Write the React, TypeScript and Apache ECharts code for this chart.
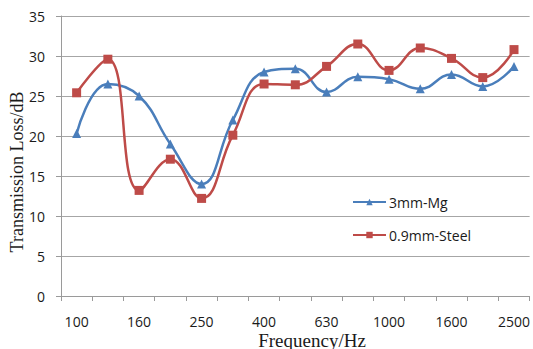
import React, { useEffect, useRef } from "react";
import * as echarts from "echarts";

const categories = ["100", "125", "160", "200", "250", "315", "400", "500", "630", "800", "1000", "1250", "1600", "2000", "2500"];
const mgValues = [20.3, 26.5, 25.0, 19.0, 14.0, 22.0, 28.0, 28.4, 25.5, 27.4, 27.1, 25.9, 27.7, 26.2, 28.7];
const steelValues = [25.4, 29.6, 13.2, 17.1, 12.2, 20.1, 26.5, 26.4, 28.7, 31.5, 28.2, 31.0, 29.7, 27.3, 30.8];
const seriesNames = ["3mm-Mg", "0.9mm-Steel"];
const yTitle = "Transmission Loss/dB";
const xTitle = "Frequency/Hz";

export default function App() {
  const ref = useRef<HTMLDivElement>(null);
  useEffect(() => {
    if (!ref.current) return;
    const chart = echarts.init(ref.current, undefined, { renderer: "svg" });
    const labelFont = { fontFamily: "Open Sans", fontSize: 14, color: "#1a1a1a" };
    chart.setOption({
      animation: false,
      backgroundColor: "#ffffff",
      grid: { left: 61, top: 16, right: 3, bottom: 53, containLabel: false },
      legend: {
        orient: "vertical",
        left: 347,
        top: 190,
        itemWidth: 33,
        itemHeight: 8,
        itemGap: 19,
        textStyle: { ...labelFont, fontSize: 14, padding: [0, 0, 0, -2] },
        data: seriesNames,
      },
      xAxis: {
        type: "category",
        data: categories,
        boundaryGap: true,
        axisLine: { lineStyle: { color: "#9a9a9a", width: 1 } },
        axisTick: { show: true, interval: 0, length: 5, lineStyle: { color: "#9a9a9a" } },
        axisLabel: { ...labelFont, interval: 1, margin: 18 },
        splitLine: { show: false },
      },
      yAxis: {
        type: "value",
        min: 0,
        max: 35,
        interval: 5,
        axisLine: { show: true, lineStyle: { color: "#9a9a9a", width: 1 } },
        axisTick: { show: true, length: 5, lineStyle: { color: "#9a9a9a" } },
        axisLabel: { ...labelFont, margin: 16 },
        splitLine: { lineStyle: { color: "#a6a6a6", width: 1 } },
      },
      graphic: [
        {
          type: "text",
          x: 17,
          y: 172,
          rotation: Math.PI / 2,
          style: {
            text: yTitle,
            fontFamily: "Liberation Serif",
            fontSize: 18,
            fill: "#1a1a1a",
            align: "center",
            verticalAlign: "middle",
          },
        },
        {
          type: "text",
          x: 312,
          y: 340,
          style: {
            text: xTitle,
            fontFamily: "Liberation Serif",
            fontSize: 19,
            fill: "#1a1a1a",
            align: "center",
            verticalAlign: "middle",
          },
        },
      ],
      series: [
        {
          name: seriesNames[0],
          type: "line",
          data: mgValues,
          smooth: 0.45,
          symbol: "triangle",
          symbolSize: 9,
          color: "#4a7ebb",
          lineStyle: { width: 2.5, color: "#4a7ebb" },
          itemStyle: { color: "#4a7ebb" },
        },
        {
          name: seriesNames[1],
          type: "line",
          data: steelValues,
          smooth: 0.45,
          symbol: "rect",
          symbolSize: 9,
          color: "#be4b48",
          lineStyle: { width: 2.5, color: "#be4b48" },
          itemStyle: { color: "#be4b48" },
        },
      ],
    });
    return () => chart.dispose();
  }, []);
  return <div ref={ref} style={{ width: 533, height: 349, position: "absolute", left: 0, top: 0 }} />;
}
